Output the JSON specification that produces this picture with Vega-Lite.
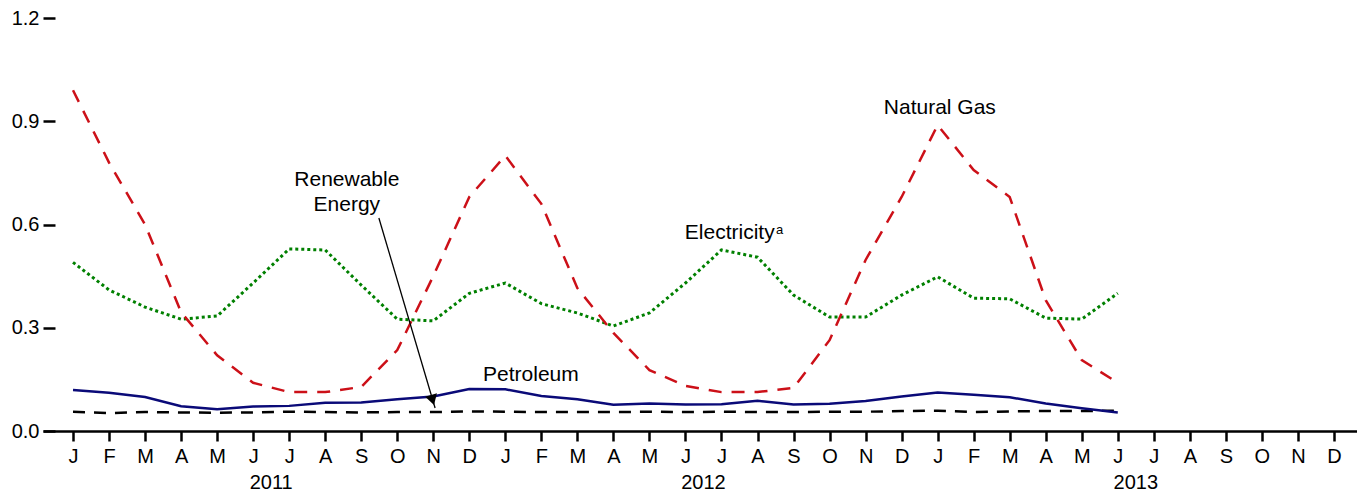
{
  "$schema": "https://vega.github.io/schema/vega-lite/v6.json",
  "width": 1314,
  "height": 413,
  "autosize": "none",
  "padding": {"left": 43, "top": 18, "right": 0, "bottom": 65},
  "background": "white",
  "config": {
    "view": {"stroke": null},
    "font": "Liberation Sans",
    "axis": {"labelFont": "Liberation Sans", "labelColor": "black", "labelFontSize": 20, "grid": false, "title": null, "tickColor": "black", "domainColor": "black"}
  },
  "datasets": {
    "series": [
      {"x": 0, "ng": 0.99, "el": 0.49, "pe": 0.119, "re": 0.056},
      {"x": 1, "ng": 0.78, "el": 0.41, "pe": 0.111, "re": 0.052},
      {"x": 2, "ng": 0.60, "el": 0.36, "pe": 0.099, "re": 0.055},
      {"x": 3, "ng": 0.345, "el": 0.325, "pe": 0.072, "re": 0.054},
      {"x": 4, "ng": 0.22, "el": 0.334, "pe": 0.063, "re": 0.053},
      {"x": 5, "ng": 0.14, "el": 0.43, "pe": 0.071, "re": 0.054},
      {"x": 6, "ng": 0.113, "el": 0.529, "pe": 0.073, "re": 0.056},
      {"x": 7, "ng": 0.113, "el": 0.526, "pe": 0.082, "re": 0.055},
      {"x": 8, "ng": 0.128, "el": 0.424, "pe": 0.083, "re": 0.054},
      {"x": 9, "ng": 0.235, "el": 0.325, "pe": 0.092, "re": 0.055},
      {"x": 10, "ng": 0.45, "el": 0.32, "pe": 0.10, "re": 0.055},
      {"x": 11, "ng": 0.68, "el": 0.40, "pe": 0.122, "re": 0.057},
      {"x": 12, "ng": 0.80, "el": 0.43, "pe": 0.121, "re": 0.056},
      {"x": 13, "ng": 0.66, "el": 0.37, "pe": 0.102, "re": 0.055},
      {"x": 14, "ng": 0.415, "el": 0.343, "pe": 0.092, "re": 0.055},
      {"x": 15, "ng": 0.285, "el": 0.305, "pe": 0.076, "re": 0.055},
      {"x": 16, "ng": 0.177, "el": 0.343, "pe": 0.08, "re": 0.056},
      {"x": 17, "ng": 0.131, "el": 0.43, "pe": 0.077, "re": 0.055},
      {"x": 18, "ng": 0.113, "el": 0.526, "pe": 0.078, "re": 0.056},
      {"x": 19, "ng": 0.113, "el": 0.505, "pe": 0.088, "re": 0.055},
      {"x": 20, "ng": 0.125, "el": 0.395, "pe": 0.077, "re": 0.055},
      {"x": 21, "ng": 0.264, "el": 0.331, "pe": 0.079, "re": 0.056},
      {"x": 22, "ng": 0.497, "el": 0.331, "pe": 0.087, "re": 0.056},
      {"x": 23, "ng": 0.68, "el": 0.395, "pe": 0.10, "re": 0.058},
      {"x": 24, "ng": 0.889, "el": 0.448, "pe": 0.112, "re": 0.059},
      {"x": 25, "ng": 0.758, "el": 0.386, "pe": 0.105, "re": 0.055},
      {"x": 26, "ng": 0.68, "el": 0.384, "pe": 0.098, "re": 0.057},
      {"x": 27, "ng": 0.38, "el": 0.328, "pe": 0.08, "re": 0.058},
      {"x": 28, "ng": 0.206, "el": 0.325, "pe": 0.066, "re": 0.058},
      {"x": 29, "ng": 0.14, "el": 0.40, "pe": 0.054, "re": 0.059}
    ],
    "labels": [
      {"label": "Natural Gas", "x": 24.06, "y": 0.9385},
      {"label": "Electricity", "x": 18.23, "y": 0.575},
      {"label": "Petroleum", "x": 12.71, "y": 0.164},
      {"label": "Renewable", "x": 7.6, "y": 0.729},
      {"label": "Energy", "x": 7.6, "y": 0.657}
    ],
    "years": [
      {"label": "2011", "x": 5.5, "y": -0.152},
      {"label": "2012", "x": 17.5, "y": -0.152},
      {"label": "2013", "x": 29.5, "y": -0.152}
    ],
    "sup": [{"label": "a", "x": 19.61, "y": 0.584}],
    "arrow": [{"x": 8.49, "y": 0.619, "x2": 10.05, "y2": 0.067, "hx": 9.98, "hy": 0.09}]
  },
  "encoding": {
    "x": {"field": "x", "type": "quantitative", "scale": {"domain": [-0.833, 35.64], "nice": false, "zero": false},
      "axis": {"values": [0,1,2,3,4,5,6,7,8,9,10,11,12,13,14,15,16,17,18,19,20,21,22,23,24,25,26,27,28,29,30,31,32,33,34,35],
        "labelExpr": "['J','F','M','A','M','J','J','A','S','O','N','D'][datum.value % 12]",
        "tickSize": 10, "tickWidth": 2.5, "domainWidth": 2.5, "labelPadding": 5, "labelFlush": false, "labelOverlap": false}},
    "y": {"type": "quantitative", "scale": {"domain": [0, 1.2], "nice": false, "zero": true},
      "axis": {"values": [0, 0.3, 0.6, 0.9, 1.2], "format": ".1f", "domain": false, "tickSize": 12, "tickWidth": 2.5, "offset": -12, "labelPadding": 4}}
  },
  "layer": [
    {
      "data": {"name": "series"},
      "mark": {"type": "line", "color": "black", "strokeWidth": 2.5, "strokeDash": [12, 9]},
      "encoding": {"y": {"field": "re"}}
    },
    {
      "data": {"name": "series"},
      "mark": {"type": "line", "color": "#0a0a78", "strokeWidth": 2.5},
      "encoding": {"y": {"field": "pe"}}
    },
    {
      "data": {"name": "series"},
      "mark": {"type": "line", "color": "#008000", "strokeWidth": 3, "strokeDash": [3, 3]},
      "encoding": {"y": {"field": "el"}}
    },
    {
      "data": {"name": "series"},
      "mark": {"type": "line", "color": "#cc1018", "strokeWidth": 2.5, "strokeDash": [13, 10]},
      "encoding": {"y": {"field": "ng"}}
    },
    {
      "data": {"name": "labels"},
      "mark": {"type": "text", "fontSize": 21, "color": "black", "align": "center", "baseline": "middle", "font": "Liberation Sans"},
      "encoding": {"y": {"field": "y"}, "text": {"field": "label"}}
    },
    {
      "data": {"name": "years"},
      "mark": {"type": "text", "fontSize": 20, "color": "black", "align": "center", "baseline": "middle", "font": "Liberation Sans"},
      "encoding": {"y": {"field": "y"}, "text": {"field": "label"}}
    },
    {
      "data": {"name": "sup"},
      "mark": {"type": "text", "fontSize": 13, "color": "black", "align": "center", "baseline": "middle", "font": "Liberation Sans"},
      "encoding": {"y": {"field": "y"}, "text": {"field": "label"}}
    },
    {
      "data": {"name": "arrow"},
      "mark": {"type": "rule", "color": "black", "strokeWidth": 1.3},
      "encoding": {"y": {"field": "y"}, "x2": {"field": "x2"}, "y2": {"field": "y2"}}
    },
    {
      "data": {"name": "arrow"},
      "mark": {"type": "point", "shape": "triangle-up", "filled": true, "color": "black", "size": 150, "angle": 163.6, "opacity": 1},
      "encoding": {"x": {"field": "hx", "type": "quantitative"}, "y": {"field": "hy"}}
    }
  ]
}
